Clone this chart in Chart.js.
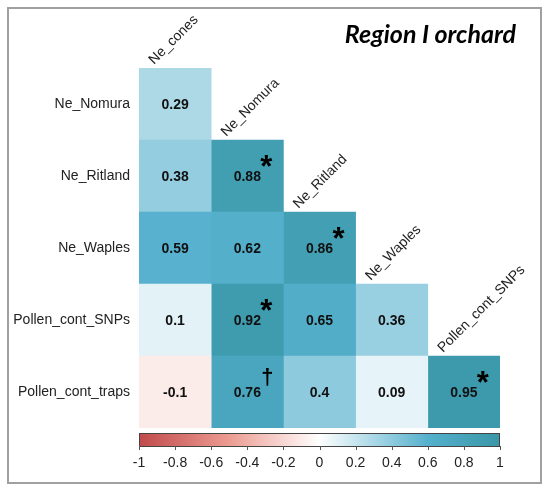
<!DOCTYPE html>
<html>
<head>
    <meta charset="UTF-8">
    <title>Region I orchard</title>
    <script src="https://cdn.jsdelivr.net/npm/chart.js"></script>
    <style>
        body {
            margin: 0;
            background-color: #ffffff;
        }
    </style>
</head>
<body>
    <canvas id="myChart" width="550" height="490"></canvas>

    <script>
        // rows (y) and columns (x) of the lower triangle
        const rowNames = ['Ne_Nomura', 'Ne_Ritland', 'Ne_Waples', 'Pollen_cont_SNPs', 'Pollen_cont_traps'];
        const colNames = ['Ne_cones', 'Ne_Nomura', 'Ne_Ritland', 'Ne_Waples', 'Pollen_cont_SNPs'];

        // correlations, one array per row
        const rNomura = [0.29];
        const rRitland = [0.38, 0.88];
        const rWaples = [0.59, 0.62, 0.86];
        const rSNPs = [0.1, 0.92, 0.65, 0.36];
        const rTraps = [-0.1, 0.76, 0.4, 0.09, 0.95];
        const corrRows = [rNomura, rRitland, rWaples, rSNPs, rTraps];

        // significance marks, same layout
        const mNomura = [''];
        const mRitland = ['', '*'];
        const mWaples = ['', '', '*'];
        const mSNPs = ['', '*', '', ''];
        const mTraps = ['', '\u2020', '', '', '*'];
        const markRows = [mNomura, mRitland, mWaples, mSNPs, mTraps];

        const legendTicks = [-1, -0.8, -0.6, -0.4, -0.2, 0, 0.2, 0.4, 0.6, 0.8, 1];

        // colour scale
        const paletteAt = [-1, -0.5, 0, 0.6, 1];
        const paletteRgb = [[192, 75, 75], [236, 156, 146], [255, 255, 255], [85, 176, 205], [58, 151, 167]];

        const labelFont = '"Liberation Sans", Arial, sans-serif';

        function corrColor(v) {
            for (let i = 1; i < paletteAt.length; i++) {
                if (v <= paletteAt[i]) {
                    const t = (v - paletteAt[i - 1]) / (paletteAt[i] - paletteAt[i - 1]);
                    const a = paletteRgb[i - 1], b = paletteRgb[i];
                    const c = a.map((x, k) => Math.round(x + (b[k] - x) * t));
                    return 'rgb(' + c.join(',') + ')';
                }
            }
            return 'rgb(' + paletteRgb[paletteRgb.length - 1].join(',') + ')';
        }

        const datasets = colNames.map((name, c) => ({
            label: name,
            data: rowNames.map((r, i) => (i >= c ? [c, c + 1] : null)),
            backgroundColor: rowNames.map((r, i) => (i >= c ? corrColor(corrRows[i][c]) : 'rgba(0,0,0,0)')),
            borderWidth: 0,
            categoryPercentage: 1,
            barPercentage: 1,
            grouped: false,
            xAxisID: 'x'
        }));

        const decorations = {
            id: 'decorations',
            beforeDraw(chart) {
                const ctx = chart.ctx;
                ctx.save();
                ctx.fillStyle = '#ffffff';
                ctx.fillRect(0, 0, chart.width, chart.height);
                ctx.strokeStyle = '#a0a0a0';
                ctx.lineWidth = 2;
                ctx.strokeRect(8, 8, 533, 475);
                ctx.restore();
            },
            afterDatasetsDraw(chart) {
                const ctx = chart.ctx;
                const xs = chart.scales.x;
                const ys = chart.scales.y;
                const lg = chart.scales.x2;
                const area = chart.chartArea;
                const half = (ys.getPixelForValue(1) - ys.getPixelForValue(0)) / 2;
                ctx.save();

                // values and marks
                corrRows.forEach((row, r) => {
                    row.forEach((v, c) => {
                        const cx = xs.getPixelForValue(c + 0.5);
                        const cy = ys.getPixelForValue(r);
                        ctx.fillStyle = '#111';
                        ctx.font = 'bold 14px ' + labelFont;
                        ctx.textAlign = 'center';
                        ctx.textBaseline = 'middle';
                        ctx.fillText(String(v), cx, cy + 1);
                        const m = markRows[r][c];
                        ctx.fillStyle = '#000';
                        if (m === '*') {
                            ctx.font = 'bold 31px ' + labelFont;
                            ctx.fillText('*', cx + 19, cy - 8);
                        } else if (m) {
                            ctx.font = 'bold 22px ' + labelFont;
                            ctx.fillText(m, cx + 20, cy - 14);
                        }
                    });
                });

                // column labels, rotated
                ctx.fillStyle = '#222';
                ctx.font = '14px ' + labelFont;
                ctx.textAlign = 'left';
                ctx.textBaseline = 'alphabetic';
                colNames.forEach((name, c) => {
                    const cx = xs.getPixelForValue(c + 0.5);
                    const top = ys.getPixelForValue(c) - half;
                    ctx.save();
                    ctx.translate(cx - 21, top - 3);
                    ctx.rotate(-Math.PI / 4);
                    ctx.fillText(name, 0, 0);
                    ctx.restore();
                });

                // title
                ctx.fillStyle = '#000';
                ctx.font = 'italic bold 25px Lato, "Open Sans", sans-serif';
                ctx.textAlign = 'right';
                ctx.fillText('Region I orchard', 516, 43);

                // colour bar
                const x0 = lg.getPixelForValue(-1);
                const x1 = lg.getPixelForValue(1);
                const y0 = area.bottom + 5;
                const h = 13;
                const grad = ctx.createLinearGradient(x0, 0, x1, 0);
                paletteAt.forEach((p, i) => {
                    grad.addColorStop((p + 1) / 2, 'rgb(' + paletteRgb[i].join(',') + ')');
                });
                ctx.fillStyle = grad;
                ctx.fillRect(x0, y0, x1 - x0, h);
                ctx.strokeStyle = '#444';
                ctx.lineWidth = 1;
                ctx.strokeRect(x0 + 0.5, y0 + 0.5, x1 - x0 - 1, h);
                ctx.strokeStyle = '#555';
                legendTicks.forEach(t => {
                    const px = Math.round(lg.getPixelForValue(t)) + 0.5;
                    ctx.beginPath();
                    ctx.moveTo(px, y0 + h);
                    ctx.lineTo(px, y0 + h + 4);
                    ctx.stroke();
                });
                ctx.restore();
            }
        };

        const ctx = document.getElementById('myChart').getContext('2d');
        const chart = new Chart(ctx, {
            type: 'bar',
            data: {
                labels: rowNames,
                datasets: datasets
            },
            options: {
                indexAxis: 'y',
                responsive: false,
                animation: false,
                layout: {
                    padding: { top: 68, right: 50, bottom: 0, left: 0 }
                },
                plugins: {
                    legend: { display: false },
                    tooltip: { enabled: false }
                },
                scales: {
                    x: {
                        type: 'linear',
                        min: 0,
                        max: 5,
                        display: false
                    },
                    x2: {
                        type: 'linear',
                        position: 'bottom',
                        min: -1,
                        max: 1,
                        grid: { display: false, drawTicks: false },
                        border: { display: false },
                        afterBuildTicks: scale => {
                            scale.ticks = legendTicks.map(v => ({ value: v }));
                        },
                        afterFit: scale => {
                            scale.height = 62;
                        },
                        ticks: {
                            autoSkip: false,
                            maxRotation: 0,
                            padding: 27,
                            color: '#222',
                            font: { family: labelFont, size: 14 },
                            callback: v => String(Math.round(v * 10) / 10)
                        }
                    },
                    y: {
                        type: 'category',
                        offset: true,
                        grid: { display: false, drawTicks: false },
                        border: { display: false },
                        afterFit: scale => {
                            scale.width = 139;
                        },
                        ticks: {
                            padding: 9,
                            color: '#222',
                            font: { family: labelFont, size: 14 }
                        }
                    }
                }
            },
            plugins: [decorations]
        });
    </script>
</body>
</html>
